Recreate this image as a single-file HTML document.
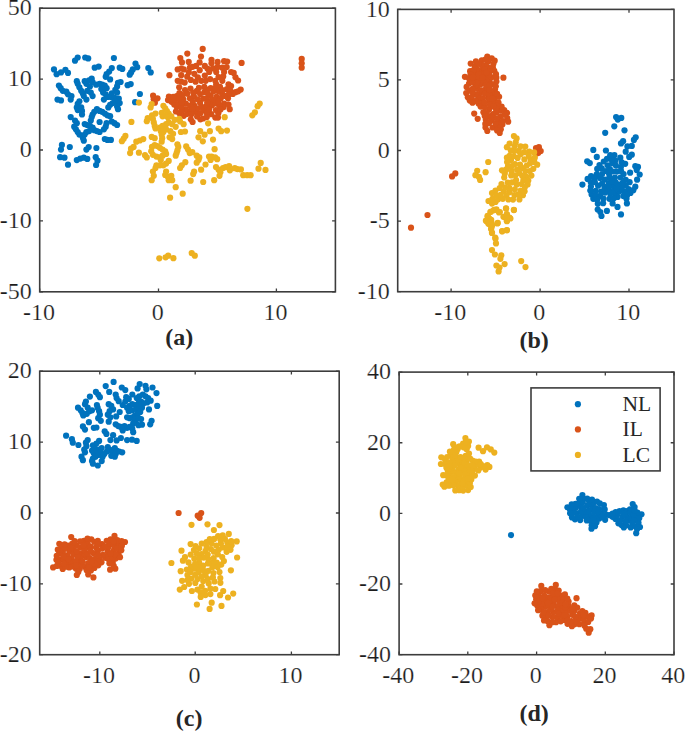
<!DOCTYPE html>
<html><head><meta charset="utf-8"><title>scatter</title>
<style>html,body{margin:0;padding:0;background:#fff}svg{display:block}text{font-family:"Liberation Serif",serif;fill:#262626}.t{stroke:#fff;stroke-width:0.22px;fill:#1c1c1c}</style></head><body>
<svg width="685" height="731" viewBox="0 0 685 731">
<rect width="685" height="731" fill="#fff"/>
<g id="plot-a">
<g fill="#0072BD"><circle cx="77.7" cy="57.5" r="3.1"/><circle cx="75.0" cy="60.7" r="3.1"/><circle cx="85.2" cy="57.5" r="3.1"/><circle cx="88.2" cy="58.4" r="3.1"/><circle cx="113.9" cy="58.0" r="3.1"/><circle cx="54.0" cy="69.4" r="3.1"/><circle cx="56.6" cy="74.2" r="3.1"/><circle cx="61.0" cy="72.4" r="3.1"/><circle cx="65.4" cy="69.8" r="3.1"/><circle cx="68.0" cy="72.9" r="3.1"/><circle cx="94.7" cy="67.7" r="3.1"/><circle cx="98.7" cy="66.6" r="3.1"/><circle cx="111.8" cy="68.0" r="3.1"/><circle cx="109.2" cy="71.5" r="3.1"/><circle cx="106.6" cy="74.2" r="3.1"/><circle cx="105.7" cy="76.8" r="3.1"/><circle cx="110.1" cy="79.4" r="3.1"/><circle cx="119.7" cy="67.7" r="3.1"/><circle cx="122.3" cy="68.9" r="3.1"/><circle cx="135.5" cy="63.6" r="3.1"/><circle cx="137.2" cy="67.2" r="3.1"/><circle cx="132.8" cy="69.4" r="3.1"/><circle cx="131.1" cy="72.4" r="3.1"/><circle cx="129.7" cy="74.7" r="3.1"/><circle cx="148.3" cy="68.0" r="3.1"/><circle cx="150.7" cy="72.4" r="3.1"/><circle cx="127.6" cy="85.2" r="3.1"/><circle cx="130.7" cy="84.1" r="3.1"/><circle cx="76.8" cy="81.2" r="3.1"/><circle cx="77.7" cy="83.8" r="3.1"/><circle cx="79.4" cy="87.3" r="3.1"/><circle cx="81.2" cy="90.8" r="3.1"/><circle cx="82.9" cy="93.4" r="3.1"/><circle cx="83.8" cy="96.1" r="3.1"/><circle cx="86.4" cy="99.6" r="3.1"/><circle cx="84.7" cy="81.2" r="3.1"/><circle cx="86.4" cy="83.8" r="3.1"/><circle cx="89.1" cy="80.3" r="3.1"/><circle cx="91.7" cy="78.5" r="3.1"/><circle cx="92.6" cy="82.0" r="3.1"/><circle cx="89.9" cy="86.4" r="3.1"/><circle cx="87.3" cy="90.8" r="3.1"/><circle cx="90.8" cy="92.6" r="3.1"/><circle cx="92.6" cy="96.1" r="3.1"/><circle cx="96.1" cy="84.7" r="3.1"/><circle cx="99.6" cy="83.8" r="3.1"/><circle cx="102.2" cy="84.7" r="3.1"/><circle cx="104.8" cy="85.5" r="3.1"/><circle cx="106.6" cy="88.2" r="3.1"/><circle cx="101.3" cy="89.1" r="3.1"/><circle cx="103.1" cy="92.6" r="3.1"/><circle cx="105.7" cy="94.3" r="3.1"/><circle cx="107.4" cy="96.9" r="3.1"/><circle cx="103.9" cy="99.6" r="3.1"/><circle cx="118.0" cy="82.9" r="3.1"/><circle cx="120.6" cy="82.0" r="3.1"/><circle cx="117.1" cy="86.4" r="3.1"/><circle cx="115.3" cy="89.9" r="3.1"/><circle cx="117.1" cy="92.6" r="3.1"/><circle cx="111.8" cy="93.4" r="3.1"/><circle cx="110.9" cy="96.9" r="3.1"/><circle cx="114.5" cy="97.8" r="3.1"/><circle cx="118.8" cy="98.7" r="3.1"/><circle cx="119.7" cy="103.1" r="3.1"/><circle cx="115.3" cy="101.3" r="3.1"/><circle cx="112.7" cy="103.1" r="3.1"/><circle cx="110.1" cy="104.8" r="3.1"/><circle cx="108.3" cy="107.4" r="3.1"/><circle cx="117.1" cy="106.6" r="3.1"/><circle cx="118.0" cy="109.2" r="3.1"/><circle cx="58.9" cy="85.5" r="3.1"/><circle cx="60.7" cy="88.2" r="3.1"/><circle cx="62.8" cy="90.8" r="3.1"/><circle cx="66.3" cy="91.7" r="3.1"/><circle cx="68.0" cy="94.3" r="3.1"/><circle cx="71.5" cy="96.1" r="3.1"/><circle cx="70.7" cy="99.6" r="3.1"/><circle cx="57.5" cy="99.6" r="3.1"/><circle cx="61.0" cy="100.4" r="3.1"/><circle cx="139.9" cy="94.0" r="3.1"/><circle cx="135.1" cy="102.2" r="3.1"/><circle cx="79.4" cy="101.3" r="3.1"/><circle cx="77.7" cy="103.9" r="3.1"/><circle cx="76.8" cy="107.4" r="3.1"/><circle cx="77.7" cy="110.1" r="3.1"/><circle cx="81.2" cy="107.4" r="3.1"/><circle cx="82.0" cy="110.9" r="3.1"/><circle cx="82.0" cy="114.5" r="3.1"/><circle cx="70.7" cy="117.1" r="3.1"/><circle cx="75.0" cy="120.6" r="3.1"/><circle cx="76.8" cy="123.2" r="3.1"/><circle cx="96.9" cy="109.2" r="3.1"/><circle cx="94.3" cy="111.8" r="3.1"/><circle cx="92.6" cy="114.5" r="3.1"/><circle cx="91.7" cy="117.1" r="3.1"/><circle cx="90.8" cy="120.6" r="3.1"/><circle cx="99.6" cy="110.9" r="3.1"/><circle cx="102.2" cy="111.8" r="3.1"/><circle cx="104.8" cy="113.6" r="3.1"/><circle cx="107.4" cy="115.3" r="3.1"/><circle cx="110.1" cy="116.2" r="3.1"/><circle cx="99.6" cy="122.0" r="3.1"/><circle cx="111.8" cy="121.5" r="3.1"/><circle cx="114.5" cy="123.2" r="3.1"/><circle cx="117.1" cy="125.0" r="3.1"/><circle cx="106.6" cy="123.2" r="3.1"/><circle cx="105.7" cy="126.7" r="3.1"/><circle cx="103.9" cy="129.3" r="3.1"/><circle cx="99.6" cy="132.0" r="3.1"/><circle cx="96.9" cy="131.1" r="3.1"/><circle cx="94.3" cy="130.2" r="3.1"/><circle cx="92.6" cy="127.6" r="3.1"/><circle cx="89.9" cy="125.8" r="3.1"/><circle cx="87.3" cy="125.0" r="3.1"/><circle cx="84.7" cy="124.1" r="3.1"/><circle cx="74.2" cy="126.7" r="3.1"/><circle cx="75.9" cy="129.3" r="3.1"/><circle cx="77.7" cy="132.0" r="3.1"/><circle cx="79.4" cy="134.6" r="3.1"/><circle cx="82.9" cy="138.1" r="3.1"/><circle cx="84.7" cy="134.6" r="3.1"/><circle cx="86.4" cy="132.0" r="3.1"/><circle cx="89.1" cy="131.1" r="3.1"/><circle cx="83.8" cy="140.7" r="3.1"/><circle cx="104.8" cy="139.0" r="3.1"/><circle cx="107.4" cy="139.9" r="3.1"/><circle cx="110.9" cy="139.9" r="3.1"/><circle cx="61.9" cy="144.9" r="3.1"/><circle cx="61.0" cy="149.6" r="3.1"/><circle cx="69.8" cy="147.0" r="3.1"/><circle cx="88.7" cy="147.0" r="3.1"/><circle cx="86.4" cy="149.6" r="3.1"/><circle cx="96.4" cy="148.0" r="3.1"/><circle cx="60.1" cy="157.2" r="3.1"/><circle cx="64.5" cy="157.7" r="3.1"/><circle cx="68.0" cy="164.7" r="3.1"/><circle cx="76.8" cy="160.1" r="3.1"/><circle cx="80.3" cy="158.6" r="3.1"/><circle cx="83.8" cy="157.7" r="3.1"/><circle cx="87.3" cy="158.9" r="3.1"/><circle cx="95.7" cy="157.2" r="3.1"/><circle cx="97.5" cy="160.7" r="3.1"/><circle cx="96.1" cy="165.0" r="3.1"/></g>
<g fill="#D95319"><circle cx="202.7" cy="48.9" r="3.1"/><circle cx="187.3" cy="53.6" r="3.1"/><circle cx="201.0" cy="56.6" r="3.1"/><circle cx="180.3" cy="58.0" r="3.1"/><circle cx="182.0" cy="62.4" r="3.1"/><circle cx="188.7" cy="61.9" r="3.1"/><circle cx="199.6" cy="62.4" r="3.1"/><circle cx="211.5" cy="59.8" r="3.1"/><circle cx="211.5" cy="63.3" r="3.1"/><circle cx="217.6" cy="61.9" r="3.1"/><circle cx="224.1" cy="61.2" r="3.1"/><circle cx="227.2" cy="61.5" r="3.1"/><circle cx="241.6" cy="62.9" r="3.1"/><circle cx="169.4" cy="75.2" r="3.1"/><circle cx="177.7" cy="69.4" r="3.1"/><circle cx="181.2" cy="68.5" r="3.1"/><circle cx="183.8" cy="69.4" r="3.1"/><circle cx="189.9" cy="67.7" r="3.1"/><circle cx="192.6" cy="66.8" r="3.1"/><circle cx="196.1" cy="65.9" r="3.1"/><circle cx="204.8" cy="65.9" r="3.1"/><circle cx="207.4" cy="68.5" r="3.1"/><circle cx="209.2" cy="72.0" r="3.1"/><circle cx="216.2" cy="72.0" r="3.1"/><circle cx="222.3" cy="67.7" r="3.1"/><circle cx="226.7" cy="67.1" r="3.1"/><circle cx="224.1" cy="72.0" r="3.1"/><circle cx="223.2" cy="76.4" r="3.1"/><circle cx="231.1" cy="72.0" r="3.1"/><circle cx="233.7" cy="72.9" r="3.1"/><circle cx="235.5" cy="77.3" r="3.1"/><circle cx="238.1" cy="80.5" r="3.1"/><circle cx="177.7" cy="80.8" r="3.1"/><circle cx="181.2" cy="81.7" r="3.1"/><circle cx="184.7" cy="82.6" r="3.1"/><circle cx="190.8" cy="79.9" r="3.1"/><circle cx="194.3" cy="73.8" r="3.1"/><circle cx="197.8" cy="77.3" r="3.1"/><circle cx="201.3" cy="80.8" r="3.1"/><circle cx="205.7" cy="80.8" r="3.1"/><circle cx="210.1" cy="79.1" r="3.1"/><circle cx="215.3" cy="80.8" r="3.1"/><circle cx="216.2" cy="84.3" r="3.1"/><circle cx="222.3" cy="80.8" r="3.1"/><circle cx="228.5" cy="84.3" r="3.1"/><circle cx="231.1" cy="86.1" r="3.1"/><circle cx="240.7" cy="89.6" r="3.1"/><circle cx="238.1" cy="91.3" r="3.1"/><circle cx="235.5" cy="92.2" r="3.1"/><circle cx="232.8" cy="93.9" r="3.1"/><circle cx="168.9" cy="96.6" r="3.1"/><circle cx="168.0" cy="100.1" r="3.1"/><circle cx="171.5" cy="101.8" r="3.1"/><circle cx="174.2" cy="104.5" r="3.1"/><circle cx="176.8" cy="107.1" r="3.1"/><circle cx="175.9" cy="111.5" r="3.1"/><circle cx="179.4" cy="113.2" r="3.1"/><circle cx="183.8" cy="115.8" r="3.1"/><circle cx="190.8" cy="119.3" r="3.1"/><circle cx="192.6" cy="122.0" r="3.1"/><circle cx="200.4" cy="119.3" r="3.1"/><circle cx="203.1" cy="118.5" r="3.1"/><circle cx="215.3" cy="117.6" r="3.1"/><circle cx="218.0" cy="117.6" r="3.1"/><circle cx="229.7" cy="109.2" r="3.1"/><circle cx="224.1" cy="103.6" r="3.1"/><circle cx="223.7" cy="107.1" r="3.1"/><circle cx="153.1" cy="95.7" r="3.1"/><circle cx="153.7" cy="99.2" r="3.1"/><circle cx="157.5" cy="98.3" r="3.1"/><circle cx="154.9" cy="102.7" r="3.1"/><circle cx="301.7" cy="58.9" r="3.1"/><circle cx="301.7" cy="63.3" r="3.1"/><circle cx="301.7" cy="67.7" r="3.1"/><circle cx="185.9" cy="103.7" r="3.1"/><circle cx="194.3" cy="105.6" r="3.1"/><circle cx="210.7" cy="88.2" r="3.1"/><circle cx="187.2" cy="93.7" r="3.1"/><circle cx="211.3" cy="114.2" r="3.1"/><circle cx="204.1" cy="110.1" r="3.1"/><circle cx="219.1" cy="105.2" r="3.1"/><circle cx="195.9" cy="112.0" r="3.1"/><circle cx="226.9" cy="89.2" r="3.1"/><circle cx="179.4" cy="93.1" r="3.1"/><circle cx="210.7" cy="95.8" r="3.1"/><circle cx="203.1" cy="98.6" r="3.1"/><circle cx="213.6" cy="91.3" r="3.1"/><circle cx="228.5" cy="104.5" r="3.1"/><circle cx="196.9" cy="90.9" r="3.1"/><circle cx="189.4" cy="111.0" r="3.1"/><circle cx="216.6" cy="96.8" r="3.1"/><circle cx="190.5" cy="88.6" r="3.1"/><circle cx="183.3" cy="99.3" r="3.1"/><circle cx="228.0" cy="98.3" r="3.1"/><circle cx="200.1" cy="102.9" r="3.1"/><circle cx="211.8" cy="105.4" r="3.1"/><circle cx="206.4" cy="106.2" r="3.1"/><circle cx="210.8" cy="101.2" r="3.1"/><circle cx="215.9" cy="110.0" r="3.1"/><circle cx="193.9" cy="96.2" r="3.1"/><circle cx="189.9" cy="98.3" r="3.1"/><circle cx="220.0" cy="86.9" r="3.1"/><circle cx="222.1" cy="93.8" r="3.1"/><circle cx="185.0" cy="90.0" r="3.1"/><circle cx="204.5" cy="92.2" r="3.1"/><circle cx="182.4" cy="95.1" r="3.1"/><circle cx="197.5" cy="99.3" r="3.1"/><circle cx="218.3" cy="113.2" r="3.1"/><circle cx="197.1" cy="116.5" r="3.1"/><circle cx="186.8" cy="114.0" r="3.1"/><circle cx="193.2" cy="92.5" r="3.1"/><circle cx="178.6" cy="104.1" r="3.1"/><circle cx="220.7" cy="98.4" r="3.1"/><circle cx="197.5" cy="108.6" r="3.1"/><circle cx="200.1" cy="94.0" r="3.1"/><circle cx="175.2" cy="99.8" r="3.1"/><circle cx="206.7" cy="112.9" r="3.1"/><circle cx="218.4" cy="91.3" r="3.1"/><circle cx="201.6" cy="106.9" r="3.1"/><circle cx="200.6" cy="113.1" r="3.1"/><circle cx="185.7" cy="109.3" r="3.1"/><circle cx="230.2" cy="90.6" r="3.1"/><circle cx="220.5" cy="109.6" r="3.1"/><circle cx="209.1" cy="109.6" r="3.1"/><circle cx="206.8" cy="117.1" r="3.1"/><circle cx="191.3" cy="114.3" r="3.1"/><circle cx="215.4" cy="103.5" r="3.1"/><circle cx="190.1" cy="105.7" r="3.1"/><circle cx="207.0" cy="89.6" r="3.1"/><circle cx="192.8" cy="101.8" r="3.1"/><circle cx="176.7" cy="96.2" r="3.1"/><circle cx="181.9" cy="110.4" r="3.1"/><circle cx="198.9" cy="87.9" r="3.1"/><circle cx="206.6" cy="98.6" r="3.1"/><circle cx="207.2" cy="102.6" r="3.1"/><circle cx="214.6" cy="99.9" r="3.1"/><circle cx="181.5" cy="106.8" r="3.1"/><circle cx="228.5" cy="94.7" r="3.1"/><circle cx="225.0" cy="95.9" r="3.1"/><circle cx="179.4" cy="99.1" r="3.1"/><circle cx="215.4" cy="87.9" r="3.1"/><circle cx="222.3" cy="90.2" r="3.1"/><circle cx="181.8" cy="102.5" r="3.1"/><circle cx="204.3" cy="86.9" r="3.1"/><circle cx="207.8" cy="93.6" r="3.1"/><circle cx="173.2" cy="96.9" r="3.1"/><circle cx="192.5" cy="109.0" r="3.1"/><circle cx="218.3" cy="101.5" r="3.1"/><circle cx="181.2" cy="75.2" r="3.1"/><circle cx="204.8" cy="75.6" r="3.1"/><circle cx="199.7" cy="70.2" r="3.1"/><circle cx="187.2" cy="76.7" r="3.1"/><circle cx="195.6" cy="81.7" r="3.1"/><circle cx="213.0" cy="68.4" r="3.1"/><circle cx="179.2" cy="87.3" r="3.1"/><circle cx="218.5" cy="77.0" r="3.1"/><circle cx="217.6" cy="66.9" r="3.1"/><circle cx="188.8" cy="72.3" r="3.1"/></g>
<g fill="#EDB120"><circle cx="138.9" cy="102.6" r="3.1"/><circle cx="151.7" cy="104.0" r="3.1"/><circle cx="150.6" cy="107.5" r="3.1"/><circle cx="163.4" cy="105.8" r="3.1"/><circle cx="165.2" cy="108.4" r="3.1"/><circle cx="166.9" cy="111.0" r="3.1"/><circle cx="168.7" cy="113.6" r="3.1"/><circle cx="131.4" cy="121.9" r="3.1"/><circle cx="147.7" cy="118.0" r="3.1"/><circle cx="146.8" cy="121.2" r="3.1"/><circle cx="152.0" cy="115.4" r="3.1"/><circle cx="155.5" cy="113.6" r="3.1"/><circle cx="152.9" cy="118.9" r="3.1"/><circle cx="153.8" cy="122.4" r="3.1"/><circle cx="154.7" cy="125.9" r="3.1"/><circle cx="155.5" cy="128.5" r="3.1"/><circle cx="161.7" cy="112.8" r="3.1"/><circle cx="162.6" cy="116.3" r="3.1"/><circle cx="165.2" cy="115.4" r="3.1"/><circle cx="167.8" cy="117.2" r="3.1"/><circle cx="171.3" cy="116.3" r="3.1"/><circle cx="174.8" cy="119.8" r="3.1"/><circle cx="179.2" cy="118.9" r="3.1"/><circle cx="180.1" cy="121.5" r="3.1"/><circle cx="183.6" cy="124.2" r="3.1"/><circle cx="175.7" cy="126.8" r="3.1"/><circle cx="172.2" cy="124.2" r="3.1"/><circle cx="168.7" cy="122.4" r="3.1"/><circle cx="166.1" cy="124.2" r="3.1"/><circle cx="162.6" cy="125.9" r="3.1"/><circle cx="159.9" cy="127.7" r="3.1"/><circle cx="160.8" cy="131.2" r="3.1"/><circle cx="163.4" cy="132.0" r="3.1"/><circle cx="166.1" cy="129.4" r="3.1"/><circle cx="170.4" cy="131.2" r="3.1"/><circle cx="173.1" cy="133.8" r="3.1"/><circle cx="180.9" cy="132.0" r="3.1"/><circle cx="185.0" cy="131.5" r="3.1"/><circle cx="125.4" cy="135.9" r="3.1"/><circle cx="123.7" cy="138.7" r="3.1"/><circle cx="121.9" cy="141.2" r="3.1"/><circle cx="151.7" cy="136.9" r="3.1"/><circle cx="154.7" cy="138.2" r="3.1"/><circle cx="143.3" cy="139.1" r="3.1"/><circle cx="139.8" cy="140.5" r="3.1"/><circle cx="136.3" cy="141.7" r="3.1"/><circle cx="161.7" cy="134.7" r="3.1"/><circle cx="162.2" cy="138.2" r="3.1"/><circle cx="161.7" cy="141.7" r="3.1"/><circle cx="169.6" cy="137.3" r="3.1"/><circle cx="172.2" cy="139.1" r="3.1"/><circle cx="133.6" cy="146.9" r="3.1"/><circle cx="131.0" cy="148.7" r="3.1"/><circle cx="130.1" cy="153.1" r="3.1"/><circle cx="138.9" cy="152.7" r="3.1"/><circle cx="145.0" cy="155.2" r="3.1"/><circle cx="146.8" cy="157.4" r="3.1"/><circle cx="152.0" cy="146.9" r="3.1"/><circle cx="154.7" cy="145.2" r="3.1"/><circle cx="157.3" cy="146.1" r="3.1"/><circle cx="159.9" cy="147.8" r="3.1"/><circle cx="162.6" cy="149.6" r="3.1"/><circle cx="165.2" cy="151.3" r="3.1"/><circle cx="166.1" cy="153.9" r="3.1"/><circle cx="162.6" cy="155.7" r="3.1"/><circle cx="159.9" cy="157.4" r="3.1"/><circle cx="156.4" cy="156.6" r="3.1"/><circle cx="152.9" cy="154.8" r="3.1"/><circle cx="151.2" cy="151.3" r="3.1"/><circle cx="160.8" cy="160.1" r="3.1"/><circle cx="177.4" cy="144.3" r="3.1"/><circle cx="178.3" cy="146.9" r="3.1"/><circle cx="177.4" cy="150.4" r="3.1"/><circle cx="176.6" cy="153.1" r="3.1"/><circle cx="175.7" cy="155.7" r="3.1"/><circle cx="186.2" cy="146.4" r="3.1"/><circle cx="188.0" cy="149.6" r="3.1"/><circle cx="189.7" cy="153.1" r="3.1"/><circle cx="192.3" cy="152.2" r="3.1"/><circle cx="196.7" cy="155.7" r="3.1"/><circle cx="199.3" cy="157.4" r="3.1"/><circle cx="198.5" cy="160.1" r="3.1"/><circle cx="196.7" cy="162.7" r="3.1"/><circle cx="168.7" cy="160.9" r="3.1"/><circle cx="166.1" cy="163.6" r="3.1"/><circle cx="163.4" cy="165.3" r="3.1"/><circle cx="159.9" cy="165.3" r="3.1"/><circle cx="156.4" cy="165.3" r="3.1"/><circle cx="155.5" cy="168.0" r="3.1"/><circle cx="152.9" cy="171.5" r="3.1"/><circle cx="153.8" cy="175.8" r="3.1"/><circle cx="151.7" cy="180.2" r="3.1"/><circle cx="185.3" cy="162.2" r="3.1"/><circle cx="181.8" cy="165.3" r="3.1"/><circle cx="180.1" cy="168.0" r="3.1"/><circle cx="166.1" cy="171.5" r="3.1"/><circle cx="165.2" cy="175.0" r="3.1"/><circle cx="167.8" cy="176.7" r="3.1"/><circle cx="171.3" cy="175.8" r="3.1"/><circle cx="168.7" cy="180.2" r="3.1"/><circle cx="172.2" cy="180.2" r="3.1"/><circle cx="175.7" cy="187.2" r="3.1"/><circle cx="194.1" cy="171.5" r="3.1"/><circle cx="193.2" cy="174.1" r="3.1"/><circle cx="190.6" cy="180.7" r="3.1"/><circle cx="201.1" cy="169.7" r="3.1"/><circle cx="205.5" cy="164.5" r="3.1"/><circle cx="203.2" cy="182.0" r="3.1"/><circle cx="182.7" cy="193.7" r="3.1"/><circle cx="170.1" cy="197.7" r="3.1"/><circle cx="198.5" cy="137.3" r="3.1"/><circle cx="200.2" cy="131.2" r="3.1"/><circle cx="204.6" cy="134.7" r="3.1"/><circle cx="209.9" cy="131.2" r="3.1"/><circle cx="202.8" cy="141.3" r="3.1"/><circle cx="213.0" cy="139.6" r="3.1"/><circle cx="214.6" cy="149.2" r="3.1"/><circle cx="209.0" cy="156.6" r="3.1"/><circle cx="211.6" cy="156.6" r="3.1"/><circle cx="215.1" cy="157.4" r="3.1"/><circle cx="217.2" cy="159.2" r="3.1"/><circle cx="216.0" cy="167.1" r="3.1"/><circle cx="218.6" cy="169.7" r="3.1"/><circle cx="220.4" cy="172.3" r="3.1"/><circle cx="219.5" cy="175.8" r="3.1"/><circle cx="214.2" cy="180.2" r="3.1"/><circle cx="223.0" cy="168.0" r="3.1"/><circle cx="225.6" cy="167.1" r="3.1"/><circle cx="229.1" cy="166.2" r="3.1"/><circle cx="224.7" cy="117.2" r="3.1"/><circle cx="208.1" cy="123.3" r="3.1"/><circle cx="218.6" cy="128.5" r="3.1"/><circle cx="221.2" cy="131.2" r="3.1"/><circle cx="227.0" cy="130.6" r="3.1"/><circle cx="259.7" cy="103.6" r="3.1"/><circle cx="257.6" cy="106.2" r="3.1"/><circle cx="254.9" cy="112.3" r="3.1"/><circle cx="252.3" cy="115.3" r="3.1"/><circle cx="210.6" cy="159.9" r="3.1"/><circle cx="229.9" cy="170.3" r="3.1"/><circle cx="234.8" cy="168.2" r="3.1"/><circle cx="237.4" cy="169.1" r="3.1"/><circle cx="240.9" cy="169.4" r="3.1"/><circle cx="243.2" cy="175.2" r="3.1"/><circle cx="247.1" cy="175.2" r="3.1"/><circle cx="250.6" cy="175.2" r="3.1"/><circle cx="260.7" cy="162.9" r="3.1"/><circle cx="258.5" cy="168.7" r="3.1"/><circle cx="265.5" cy="169.9" r="3.1"/><circle cx="247.4" cy="208.8" r="3.1"/><circle cx="159.3" cy="258.3" r="3.1"/><circle cx="165.6" cy="257.3" r="3.1"/><circle cx="168.2" cy="255.7" r="3.1"/><circle cx="173.4" cy="258.2" r="3.1"/><circle cx="191.7" cy="253.1" r="3.1"/><circle cx="194.8" cy="255.7" r="3.1"/></g>
<rect x="39.70" y="8.20" width="295.70" height="283.60" fill="none" stroke="#3d3d3d" stroke-width="1.6"/>
<path d="M39.70 291.80v-3.30M39.70 8.20v3.30M158.50 291.80v-3.30M158.50 8.20v3.30M276.40 291.80v-3.30M276.40 8.20v3.30M39.70 8.20h3.30M335.40 8.20h-3.30M39.70 79.10h3.30M335.40 79.10h-3.30M39.70 150.00h3.30M335.40 150.00h-3.30M39.70 220.90h3.30M335.40 220.90h-3.30M39.70 291.80h3.30M335.40 291.80h-3.30" stroke="#3d3d3d" stroke-width="1.3" fill="none"/>
<text x="38.90" y="319.60" font-size="24" class="t" text-anchor="middle">-10</text>
<text x="157.70" y="319.60" font-size="24" class="t" text-anchor="middle">0</text>
<text x="275.60" y="319.60" font-size="24" class="t" text-anchor="middle">10</text>
<text x="31.70" y="15.40" font-size="24" class="t" text-anchor="end">50</text>
<text x="31.70" y="86.30" font-size="24" class="t" text-anchor="end">10</text>
<text x="31.70" y="157.20" font-size="24" class="t" text-anchor="end">0</text>
<text x="31.70" y="228.10" font-size="24" class="t" text-anchor="end">-10</text>
<text x="31.70" y="299.00" font-size="24" class="t" text-anchor="end">-50</text>
<text x="179.30" y="345.00" font-size="24" font-weight="bold" text-anchor="middle" fill="#111">(a)</text>
</g>
<g id="plot-b">
<g fill="#0072BD"><circle cx="616.1" cy="117.0" r="3.1"/><circle cx="621.3" cy="117.9" r="3.1"/><circle cx="617.8" cy="119.6" r="3.1"/><circle cx="614.3" cy="126.3" r="3.1"/><circle cx="605.2" cy="132.8" r="3.1"/><circle cx="624.5" cy="130.3" r="3.1"/><circle cx="635.7" cy="137.3" r="3.1"/><circle cx="633.9" cy="139.9" r="3.1"/><circle cx="623.1" cy="141.2" r="3.1"/><circle cx="621.0" cy="143.4" r="3.1"/><circle cx="627.4" cy="146.4" r="3.1"/><circle cx="631.8" cy="145.9" r="3.1"/><circle cx="625.7" cy="151.7" r="3.1"/><circle cx="593.3" cy="149.9" r="3.1"/><circle cx="605.9" cy="150.5" r="3.1"/><circle cx="631.8" cy="154.7" r="3.1"/><circle cx="629.2" cy="156.9" r="3.1"/><circle cx="587.2" cy="161.3" r="3.1"/><circle cx="589.8" cy="163.1" r="3.1"/><circle cx="596.8" cy="156.9" r="3.1"/><circle cx="582.4" cy="184.6" r="3.1"/><circle cx="635.3" cy="166.2" r="3.1"/><circle cx="638.0" cy="166.9" r="3.1"/><circle cx="636.7" cy="170.1" r="3.1"/><circle cx="639.7" cy="174.5" r="3.1"/><circle cx="630.1" cy="172.7" r="3.1"/><circle cx="637.1" cy="179.7" r="3.1"/><circle cx="635.3" cy="186.7" r="3.1"/><circle cx="626.9" cy="203.4" r="3.1"/><circle cx="621.0" cy="214.4" r="3.1"/><circle cx="617.5" cy="206.9" r="3.1"/><circle cx="606.9" cy="210.9" r="3.1"/><circle cx="601.5" cy="216.0" r="3.1"/><circle cx="600.3" cy="212.1" r="3.1"/><circle cx="597.7" cy="209.5" r="3.1"/><circle cx="612.6" cy="203.4" r="3.1"/><circle cx="609.0" cy="173.5" r="3.1"/><circle cx="593.3" cy="198.8" r="3.1"/><circle cx="613.4" cy="186.0" r="3.1"/><circle cx="620.6" cy="177.5" r="3.1"/><circle cx="621.7" cy="162.4" r="3.1"/><circle cx="615.2" cy="194.0" r="3.1"/><circle cx="605.2" cy="192.6" r="3.1"/><circle cx="619.2" cy="191.6" r="3.1"/><circle cx="607.0" cy="158.8" r="3.1"/><circle cx="599.5" cy="165.1" r="3.1"/><circle cx="600.2" cy="195.9" r="3.1"/><circle cx="604.9" cy="179.5" r="3.1"/><circle cx="615.5" cy="160.5" r="3.1"/><circle cx="590.7" cy="182.0" r="3.1"/><circle cx="598.1" cy="185.7" r="3.1"/><circle cx="619.2" cy="184.6" r="3.1"/><circle cx="603.4" cy="198.7" r="3.1"/><circle cx="614.9" cy="177.5" r="3.1"/><circle cx="614.4" cy="155.2" r="3.1"/><circle cx="607.6" cy="165.3" r="3.1"/><circle cx="590.9" cy="186.6" r="3.1"/><circle cx="591.6" cy="194.6" r="3.1"/><circle cx="625.7" cy="179.8" r="3.1"/><circle cx="620.9" cy="167.0" r="3.1"/><circle cx="597.8" cy="203.8" r="3.1"/><circle cx="596.7" cy="174.3" r="3.1"/><circle cx="603.8" cy="161.5" r="3.1"/><circle cx="620.3" cy="157.7" r="3.1"/><circle cx="608.5" cy="190.4" r="3.1"/><circle cx="623.6" cy="174.0" r="3.1"/><circle cx="612.2" cy="163.2" r="3.1"/><circle cx="608.7" cy="183.0" r="3.1"/><circle cx="629.6" cy="182.2" r="3.1"/><circle cx="601.1" cy="191.5" r="3.1"/><circle cx="604.5" cy="186.9" r="3.1"/><circle cx="615.9" cy="165.6" r="3.1"/><circle cx="600.0" cy="178.0" r="3.1"/><circle cx="606.1" cy="171.0" r="3.1"/><circle cx="594.9" cy="182.2" r="3.1"/><circle cx="595.7" cy="190.8" r="3.1"/><circle cx="616.9" cy="171.6" r="3.1"/><circle cx="612.8" cy="171.5" r="3.1"/><circle cx="609.4" cy="198.8" r="3.1"/><circle cx="611.5" cy="159.4" r="3.1"/><circle cx="602.1" cy="174.1" r="3.1"/><circle cx="587.6" cy="178.9" r="3.1"/><circle cx="628.5" cy="189.1" r="3.1"/><circle cx="630.5" cy="193.0" r="3.1"/><circle cx="615.7" cy="182.3" r="3.1"/><circle cx="609.0" cy="186.8" r="3.1"/><circle cx="613.6" cy="190.5" r="3.1"/><circle cx="590.3" cy="190.5" r="3.1"/><circle cx="624.2" cy="191.5" r="3.1"/><circle cx="633.3" cy="190.2" r="3.1"/><circle cx="609.9" cy="169.2" r="3.1"/><circle cx="623.4" cy="196.1" r="3.1"/><circle cx="595.8" cy="195.7" r="3.1"/><circle cx="617.6" cy="196.9" r="3.1"/><circle cx="603.1" cy="203.2" r="3.1"/><circle cx="597.1" cy="199.7" r="3.1"/><circle cx="625.7" cy="185.5" r="3.1"/><circle cx="591.1" cy="176.1" r="3.1"/><circle cx="602.1" cy="183.5" r="3.1"/><circle cx="625.2" cy="163.8" r="3.1"/><circle cx="610.2" cy="155.2" r="3.1"/><circle cx="609.4" cy="177.2" r="3.1"/><circle cx="613.8" cy="198.3" r="3.1"/><circle cx="601.8" cy="168.4" r="3.1"/><circle cx="621.6" cy="188.6" r="3.1"/><circle cx="597.2" cy="168.9" r="3.1"/><circle cx="610.3" cy="193.9" r="3.1"/><circle cx="627.2" cy="194.9" r="3.1"/><circle cx="622.7" cy="182.9" r="3.1"/><circle cx="616.8" cy="188.2" r="3.1"/><circle cx="612.0" cy="181.2" r="3.1"/><circle cx="594.4" cy="178.5" r="3.1"/><circle cx="621.1" cy="171.2" r="3.1"/><circle cx="626.5" cy="198.7" r="3.1"/></g>
<g fill="#D95319"><circle cx="503.4" cy="77.7" r="3.1"/><circle cx="464.9" cy="76.8" r="3.1"/><circle cx="474.2" cy="113.6" r="3.1"/><circle cx="477.7" cy="118.8" r="3.1"/><circle cx="470.7" cy="63.6" r="3.1"/><circle cx="470.1" cy="71.2" r="3.1"/><circle cx="496.4" cy="81.5" r="3.1"/><circle cx="487.3" cy="56.6" r="3.1"/><circle cx="491.7" cy="58.4" r="3.1"/><circle cx="494.7" cy="60.7" r="3.1"/><circle cx="536.0" cy="148.1" r="3.1"/><circle cx="538.9" cy="147.2" r="3.1"/><circle cx="540.7" cy="151.0" r="3.1"/><circle cx="538.4" cy="152.8" r="3.1"/><circle cx="536.6" cy="153.4" r="3.1"/><circle cx="455.3" cy="173.4" r="3.1"/><circle cx="452.1" cy="176.4" r="3.1"/><circle cx="427.5" cy="215.0" r="3.1"/><circle cx="411.0" cy="227.7" r="3.1"/><circle cx="493.0" cy="114.0" r="3.1"/><circle cx="500.8" cy="129.3" r="3.1"/><circle cx="466.2" cy="93.0" r="3.1"/><circle cx="486.1" cy="76.3" r="3.1"/><circle cx="489.5" cy="101.3" r="3.1"/><circle cx="492.8" cy="67.2" r="3.1"/><circle cx="474.3" cy="73.9" r="3.1"/><circle cx="489.2" cy="109.2" r="3.1"/><circle cx="481.2" cy="70.2" r="3.1"/><circle cx="478.5" cy="103.5" r="3.1"/><circle cx="480.1" cy="81.1" r="3.1"/><circle cx="479.1" cy="94.2" r="3.1"/><circle cx="498.8" cy="121.9" r="3.1"/><circle cx="481.4" cy="101.6" r="3.1"/><circle cx="480.4" cy="84.6" r="3.1"/><circle cx="488.6" cy="116.6" r="3.1"/><circle cx="469.0" cy="83.5" r="3.1"/><circle cx="492.5" cy="127.5" r="3.1"/><circle cx="489.5" cy="81.3" r="3.1"/><circle cx="491.7" cy="120.5" r="3.1"/><circle cx="485.5" cy="89.7" r="3.1"/><circle cx="493.4" cy="117.6" r="3.1"/><circle cx="469.7" cy="90.6" r="3.1"/><circle cx="486.9" cy="113.1" r="3.1"/><circle cx="486.5" cy="79.7" r="3.1"/><circle cx="468.9" cy="78.3" r="3.1"/><circle cx="499.9" cy="110.4" r="3.1"/><circle cx="494.2" cy="101.8" r="3.1"/><circle cx="485.8" cy="119.8" r="3.1"/><circle cx="480.6" cy="106.6" r="3.1"/><circle cx="504.2" cy="110.0" r="3.1"/><circle cx="488.3" cy="97.9" r="3.1"/><circle cx="496.1" cy="112.4" r="3.1"/><circle cx="495.0" cy="89.6" r="3.1"/><circle cx="484.8" cy="107.1" r="3.1"/><circle cx="477.5" cy="88.8" r="3.1"/><circle cx="481.8" cy="60.3" r="3.1"/><circle cx="501.6" cy="106.5" r="3.1"/><circle cx="492.4" cy="84.3" r="3.1"/><circle cx="469.8" cy="100.6" r="3.1"/><circle cx="481.9" cy="90.4" r="3.1"/><circle cx="475.1" cy="79.7" r="3.1"/><circle cx="491.8" cy="77.3" r="3.1"/><circle cx="483.7" cy="81.8" r="3.1"/><circle cx="477.0" cy="69.3" r="3.1"/><circle cx="492.4" cy="93.7" r="3.1"/><circle cx="478.3" cy="97.9" r="3.1"/><circle cx="485.9" cy="85.0" r="3.1"/><circle cx="498.5" cy="102.5" r="3.1"/><circle cx="485.5" cy="127.4" r="3.1"/><circle cx="496.9" cy="105.7" r="3.1"/><circle cx="490.0" cy="104.8" r="3.1"/><circle cx="488.2" cy="67.7" r="3.1"/><circle cx="475.5" cy="85.8" r="3.1"/><circle cx="475.0" cy="66.4" r="3.1"/><circle cx="485.9" cy="65.1" r="3.1"/><circle cx="475.5" cy="94.3" r="3.1"/><circle cx="496.0" cy="108.9" r="3.1"/><circle cx="475.9" cy="61.4" r="3.1"/><circle cx="483.1" cy="98.0" r="3.1"/><circle cx="497.7" cy="127.1" r="3.1"/><circle cx="481.8" cy="65.0" r="3.1"/><circle cx="507.3" cy="118.1" r="3.1"/><circle cx="482.6" cy="73.9" r="3.1"/><circle cx="495.7" cy="123.3" r="3.1"/><circle cx="495.6" cy="97.3" r="3.1"/><circle cx="478.7" cy="77.9" r="3.1"/><circle cx="502.4" cy="124.5" r="3.1"/><circle cx="489.4" cy="86.1" r="3.1"/><circle cx="487.3" cy="130.9" r="3.1"/><circle cx="488.2" cy="61.6" r="3.1"/><circle cx="484.9" cy="93.5" r="3.1"/><circle cx="484.5" cy="102.7" r="3.1"/><circle cx="472.5" cy="92.4" r="3.1"/><circle cx="471.7" cy="97.0" r="3.1"/><circle cx="475.8" cy="100.9" r="3.1"/><circle cx="466.6" cy="86.9" r="3.1"/><circle cx="499.1" cy="96.8" r="3.1"/><circle cx="494.3" cy="70.8" r="3.1"/><circle cx="493.3" cy="106.3" r="3.1"/><circle cx="500.6" cy="116.3" r="3.1"/><circle cx="489.1" cy="94.0" r="3.1"/><circle cx="496.0" cy="74.1" r="3.1"/><circle cx="484.9" cy="69.0" r="3.1"/><circle cx="485.3" cy="123.9" r="3.1"/><circle cx="472.7" cy="88.9" r="3.1"/><circle cx="497.1" cy="130.4" r="3.1"/><circle cx="478.6" cy="63.8" r="3.1"/><circle cx="467.8" cy="97.3" r="3.1"/><circle cx="507.1" cy="112.9" r="3.1"/><circle cx="476.9" cy="82.7" r="3.1"/><circle cx="489.1" cy="122.9" r="3.1"/><circle cx="489.5" cy="90.1" r="3.1"/><circle cx="473.6" cy="70.2" r="3.1"/><circle cx="493.4" cy="63.8" r="3.1"/><circle cx="490.0" cy="71.0" r="3.1"/><circle cx="496.4" cy="77.7" r="3.1"/><circle cx="470.5" cy="74.7" r="3.1"/><circle cx="503.0" cy="121.1" r="3.1"/><circle cx="489.3" cy="74.9" r="3.1"/><circle cx="478.9" cy="74.0" r="3.1"/><circle cx="486.4" cy="72.8" r="3.1"/><circle cx="504.3" cy="114.7" r="3.1"/><circle cx="497.1" cy="93.8" r="3.1"/><circle cx="472.4" cy="82.3" r="3.1"/><circle cx="483.4" cy="112.2" r="3.1"/><circle cx="495.8" cy="86.3" r="3.1"/><circle cx="472.7" cy="77.4" r="3.1"/><circle cx="499.7" cy="133.0" r="3.1"/><circle cx="492.2" cy="98.7" r="3.1"/><circle cx="482.4" cy="77.7" r="3.1"/><circle cx="484.7" cy="116.1" r="3.1"/><circle cx="485.3" cy="59.5" r="3.1"/><circle cx="497.0" cy="118.3" r="3.1"/><circle cx="508.2" cy="121.7" r="3.1"/><circle cx="472.5" cy="102.7" r="3.1"/></g>
<g fill="#EDB120"><circle cx="488.2" cy="162.0" r="3.1"/><circle cx="477.2" cy="170.8" r="3.1"/><circle cx="475.4" cy="175.2" r="3.1"/><circle cx="485.6" cy="172.2" r="3.1"/><circle cx="478.9" cy="176.9" r="3.1"/><circle cx="480.1" cy="179.9" r="3.1"/><circle cx="506.1" cy="208.5" r="3.1"/><circle cx="513.9" cy="209.9" r="3.1"/><circle cx="490.3" cy="212.0" r="3.1"/><circle cx="493.8" cy="210.2" r="3.1"/><circle cx="496.4" cy="209.3" r="3.1"/><circle cx="499.9" cy="212.0" r="3.1"/><circle cx="487.7" cy="216.4" r="3.1"/><circle cx="485.9" cy="220.7" r="3.1"/><circle cx="488.5" cy="223.4" r="3.1"/><circle cx="491.2" cy="219.9" r="3.1"/><circle cx="492.0" cy="225.1" r="3.1"/><circle cx="497.3" cy="223.4" r="3.1"/><circle cx="491.2" cy="228.6" r="3.1"/><circle cx="492.0" cy="233.0" r="3.1"/><circle cx="495.2" cy="237.7" r="3.1"/><circle cx="506.9" cy="214.6" r="3.1"/><circle cx="505.2" cy="217.2" r="3.1"/><circle cx="506.9" cy="220.7" r="3.1"/><circle cx="510.4" cy="218.5" r="3.1"/><circle cx="502.2" cy="231.2" r="3.1"/><circle cx="506.9" cy="230.0" r="3.1"/><circle cx="513.9" cy="136.1" r="3.1"/><circle cx="516.6" cy="138.4" r="3.1"/><circle cx="515.7" cy="142.4" r="3.1"/><circle cx="509.6" cy="143.6" r="3.1"/><circle cx="506.9" cy="147.2" r="3.1"/><circle cx="525.3" cy="146.6" r="3.1"/><circle cx="506.9" cy="157.7" r="3.1"/><circle cx="509.6" cy="155.9" r="3.1"/><circle cx="537.2" cy="164.7" r="3.1"/><circle cx="534.1" cy="152.4" r="3.1"/><circle cx="495.5" cy="238.7" r="3.1"/><circle cx="496.0" cy="243.4" r="3.1"/><circle cx="492.0" cy="250.1" r="3.1"/><circle cx="494.9" cy="254.5" r="3.1"/><circle cx="501.3" cy="255.3" r="3.1"/><circle cx="500.4" cy="258.8" r="3.1"/><circle cx="504.6" cy="264.1" r="3.1"/><circle cx="496.4" cy="265.5" r="3.1"/><circle cx="499.5" cy="267.6" r="3.1"/><circle cx="498.6" cy="271.4" r="3.1"/><circle cx="502.1" cy="231.3" r="3.1"/><circle cx="506.9" cy="230.3" r="3.1"/><circle cx="491.1" cy="229.1" r="3.1"/><circle cx="492.0" cy="232.6" r="3.1"/><circle cx="521.2" cy="261.1" r="3.1"/><circle cx="525.5" cy="267.1" r="3.1"/><circle cx="487.6" cy="215.9" r="3.1"/><circle cx="489.3" cy="218.5" r="3.1"/><circle cx="486.7" cy="221.2" r="3.1"/><circle cx="488.5" cy="223.8" r="3.1"/><circle cx="491.1" cy="222.0" r="3.1"/><circle cx="492.0" cy="225.9" r="3.1"/><circle cx="497.8" cy="222.9" r="3.1"/><circle cx="503.4" cy="216.8" r="3.1"/><circle cx="506.9" cy="214.2" r="3.1"/><circle cx="509.5" cy="217.7" r="3.1"/><circle cx="506.9" cy="221.2" r="3.1"/><circle cx="491.1" cy="211.5" r="3.1"/><circle cx="494.6" cy="209.8" r="3.1"/><circle cx="499.0" cy="212.4" r="3.1"/><circle cx="506.0" cy="208.4" r="3.1"/><circle cx="513.9" cy="210.1" r="3.1"/><circle cx="488.5" cy="201.0" r="3.1"/><circle cx="492.0" cy="203.6" r="3.1"/><circle cx="495.5" cy="201.9" r="3.1"/><circle cx="498.1" cy="199.3" r="3.1"/><circle cx="492.0" cy="193.1" r="3.1"/><circle cx="495.5" cy="190.5" r="3.1"/><circle cx="520.6" cy="146.3" r="3.1"/><circle cx="515.0" cy="164.1" r="3.1"/><circle cx="509.6" cy="192.2" r="3.1"/><circle cx="519.4" cy="199.5" r="3.1"/><circle cx="530.7" cy="159.5" r="3.1"/><circle cx="503.9" cy="191.5" r="3.1"/><circle cx="520.0" cy="164.5" r="3.1"/><circle cx="522.0" cy="167.9" r="3.1"/><circle cx="504.2" cy="177.5" r="3.1"/><circle cx="511.0" cy="160.1" r="3.1"/><circle cx="527.6" cy="184.4" r="3.1"/><circle cx="514.5" cy="195.1" r="3.1"/><circle cx="524.4" cy="159.4" r="3.1"/><circle cx="509.3" cy="187.9" r="3.1"/><circle cx="526.1" cy="176.7" r="3.1"/><circle cx="517.1" cy="169.6" r="3.1"/><circle cx="512.0" cy="182.3" r="3.1"/><circle cx="507.7" cy="182.5" r="3.1"/><circle cx="506.4" cy="195.6" r="3.1"/><circle cx="517.6" cy="157.9" r="3.1"/><circle cx="508.0" cy="166.2" r="3.1"/><circle cx="518.8" cy="150.9" r="3.1"/><circle cx="511.6" cy="171.3" r="3.1"/><circle cx="529.3" cy="151.7" r="3.1"/><circle cx="514.6" cy="150.8" r="3.1"/><circle cx="514.8" cy="189.3" r="3.1"/><circle cx="501.5" cy="184.0" r="3.1"/><circle cx="529.8" cy="171.0" r="3.1"/><circle cx="520.7" cy="190.5" r="3.1"/><circle cx="525.4" cy="171.0" r="3.1"/><circle cx="508.4" cy="199.5" r="3.1"/><circle cx="524.2" cy="152.2" r="3.1"/><circle cx="506.1" cy="169.7" r="3.1"/><circle cx="504.8" cy="173.4" r="3.1"/><circle cx="533.3" cy="168.8" r="3.1"/><circle cx="522.9" cy="195.2" r="3.1"/><circle cx="534.8" cy="157.7" r="3.1"/><circle cx="519.3" cy="173.0" r="3.1"/><circle cx="516.7" cy="184.5" r="3.1"/><circle cx="492.4" cy="198.9" r="3.1"/><circle cx="523.3" cy="180.6" r="3.1"/><circle cx="524.6" cy="191.3" r="3.1"/><circle cx="516.1" cy="180.1" r="3.1"/><circle cx="521.6" cy="184.0" r="3.1"/><circle cx="502.8" cy="198.8" r="3.1"/><circle cx="510.8" cy="150.4" r="3.1"/><circle cx="511.2" cy="175.4" r="3.1"/><circle cx="528.8" cy="155.9" r="3.1"/><circle cx="499.7" cy="188.1" r="3.1"/><circle cx="534.3" cy="161.9" r="3.1"/><circle cx="507.1" cy="162.1" r="3.1"/><circle cx="496.4" cy="195.6" r="3.1"/><circle cx="513.6" cy="156.0" r="3.1"/><circle cx="520.6" cy="154.3" r="3.1"/><circle cx="531.4" cy="175.6" r="3.1"/><circle cx="505.2" cy="187.5" r="3.1"/><circle cx="526.8" cy="165.5" r="3.1"/><circle cx="528.3" cy="180.5" r="3.1"/><circle cx="514.7" cy="146.1" r="3.1"/><circle cx="502.0" cy="170.3" r="3.1"/><circle cx="524.9" cy="187.1" r="3.1"/><circle cx="513.0" cy="199.6" r="3.1"/><circle cx="530.1" cy="163.3" r="3.1"/><circle cx="518.3" cy="194.4" r="3.1"/><circle cx="515.4" cy="175.3" r="3.1"/><circle cx="500.6" cy="194.9" r="3.1"/><circle cx="522.2" cy="175.8" r="3.1"/><circle cx="511.8" cy="166.2" r="3.1"/></g>
<rect x="397.70" y="9.40" width="276.30" height="282.30" fill="none" stroke="#3d3d3d" stroke-width="1.6"/>
<path d="M451.10 291.70v-3.30M451.10 9.40v3.30M540.10 291.70v-3.30M540.10 9.40v3.30M629.00 291.70v-3.30M629.00 9.40v3.30M397.70 9.40h3.30M674.00 9.40h-3.30M397.70 79.95h3.30M674.00 79.95h-3.30M397.70 150.50h3.30M674.00 150.50h-3.30M397.70 221.05h3.30M674.00 221.05h-3.30M397.70 291.70h3.30M674.00 291.70h-3.30" stroke="#3d3d3d" stroke-width="1.3" fill="none"/>
<text x="450.30" y="319.50" font-size="24" class="t" text-anchor="middle">-10</text>
<text x="539.30" y="319.50" font-size="24" class="t" text-anchor="middle">0</text>
<text x="628.20" y="319.50" font-size="24" class="t" text-anchor="middle">10</text>
<text x="389.70" y="16.60" font-size="24" class="t" text-anchor="end">10</text>
<text x="389.70" y="87.15" font-size="24" class="t" text-anchor="end">5</text>
<text x="389.70" y="157.70" font-size="24" class="t" text-anchor="end">0</text>
<text x="389.70" y="228.25" font-size="24" class="t" text-anchor="end">-5</text>
<text x="389.70" y="298.90" font-size="24" class="t" text-anchor="end">-10</text>
<text x="534.10" y="347.70" font-size="24" font-weight="bold" text-anchor="middle" fill="#111">(b)</text>
</g>
<g id="plot-c">
<g fill="#0072BD"><circle cx="113.6" cy="381.9" r="3.1"/><circle cx="105.7" cy="386.1" r="3.1"/><circle cx="109.2" cy="391.9" r="3.1"/><circle cx="121.8" cy="387.5" r="3.1"/><circle cx="125.3" cy="390.1" r="3.1"/><circle cx="139.7" cy="384.0" r="3.1"/><circle cx="137.6" cy="388.4" r="3.1"/><circle cx="145.5" cy="385.8" r="3.1"/><circle cx="146.4" cy="389.3" r="3.1"/><circle cx="152.5" cy="387.5" r="3.1"/><circle cx="156.5" cy="393.1" r="3.1"/><circle cx="157.2" cy="405.9" r="3.1"/><circle cx="95.9" cy="391.9" r="3.1"/><circle cx="98.2" cy="394.5" r="3.1"/><circle cx="99.9" cy="397.2" r="3.1"/><circle cx="89.9" cy="396.6" r="3.1"/><circle cx="115.7" cy="394.5" r="3.1"/><circle cx="116.6" cy="398.0" r="3.1"/><circle cx="118.7" cy="401.2" r="3.1"/><circle cx="85.9" cy="401.5" r="3.1"/><circle cx="85.0" cy="404.2" r="3.1"/><circle cx="78.0" cy="407.7" r="3.1"/><circle cx="80.7" cy="410.3" r="3.1"/><circle cx="82.4" cy="412.9" r="3.1"/><circle cx="83.3" cy="415.5" r="3.1"/><circle cx="86.8" cy="413.8" r="3.1"/><circle cx="89.4" cy="411.2" r="3.1"/><circle cx="92.0" cy="410.3" r="3.1"/><circle cx="87.7" cy="407.7" r="3.1"/><circle cx="96.9" cy="405.0" r="3.1"/><circle cx="97.6" cy="407.7" r="3.1"/><circle cx="99.1" cy="411.2" r="3.1"/><circle cx="99.9" cy="414.7" r="3.1"/><circle cx="98.2" cy="418.2" r="3.1"/><circle cx="100.8" cy="420.8" r="3.1"/><circle cx="88.9" cy="422.2" r="3.1"/><circle cx="108.7" cy="404.2" r="3.1"/><circle cx="111.3" cy="405.9" r="3.1"/><circle cx="113.1" cy="409.4" r="3.1"/><circle cx="109.6" cy="411.2" r="3.1"/><circle cx="107.8" cy="414.7" r="3.1"/><circle cx="110.4" cy="417.3" r="3.1"/><circle cx="108.7" cy="421.7" r="3.1"/><circle cx="119.7" cy="412.0" r="3.1"/><circle cx="116.2" cy="416.4" r="3.1"/><circle cx="122.7" cy="405.0" r="3.1"/><circle cx="125.3" cy="401.5" r="3.1"/><circle cx="126.2" cy="397.2" r="3.1"/><circle cx="128.8" cy="398.9" r="3.1"/><circle cx="132.3" cy="394.5" r="3.1"/><circle cx="136.7" cy="398.0" r="3.1"/><circle cx="139.3" cy="396.3" r="3.1"/><circle cx="142.8" cy="394.5" r="3.1"/><circle cx="145.5" cy="396.3" r="3.1"/><circle cx="148.1" cy="398.0" r="3.1"/><circle cx="150.7" cy="400.7" r="3.1"/><circle cx="147.2" cy="402.4" r="3.1"/><circle cx="143.7" cy="403.3" r="3.1"/><circle cx="141.1" cy="401.5" r="3.1"/><circle cx="138.5" cy="403.3" r="3.1"/><circle cx="135.8" cy="405.0" r="3.1"/><circle cx="132.3" cy="404.2" r="3.1"/><circle cx="129.7" cy="405.9" r="3.1"/><circle cx="127.1" cy="407.7" r="3.1"/><circle cx="128.8" cy="411.2" r="3.1"/><circle cx="132.3" cy="410.3" r="3.1"/><circle cx="135.8" cy="409.4" r="3.1"/><circle cx="139.3" cy="408.5" r="3.1"/><circle cx="142.0" cy="407.7" r="3.1"/><circle cx="149.0" cy="409.4" r="3.1"/><circle cx="140.2" cy="412.0" r="3.1"/><circle cx="137.6" cy="413.8" r="3.1"/><circle cx="135.0" cy="415.5" r="3.1"/><circle cx="132.3" cy="417.3" r="3.1"/><circle cx="129.7" cy="418.2" r="3.1"/><circle cx="127.1" cy="417.3" r="3.1"/><circle cx="135.0" cy="419.9" r="3.1"/><circle cx="138.5" cy="418.2" r="3.1"/><circle cx="141.1" cy="419.1" r="3.1"/><circle cx="135.8" cy="422.6" r="3.1"/><circle cx="133.2" cy="423.4" r="3.1"/><circle cx="138.5" cy="425.2" r="3.1"/><circle cx="142.0" cy="424.7" r="3.1"/><circle cx="151.6" cy="420.8" r="3.1"/><circle cx="150.2" cy="424.3" r="3.1"/><circle cx="115.7" cy="424.3" r="3.1"/><circle cx="118.3" cy="426.1" r="3.1"/><circle cx="120.9" cy="426.9" r="3.1"/><circle cx="124.5" cy="426.1" r="3.1"/><circle cx="127.1" cy="427.8" r="3.1"/><circle cx="122.7" cy="430.4" r="3.1"/><circle cx="129.7" cy="426.9" r="3.1"/><circle cx="132.3" cy="428.7" r="3.1"/><circle cx="133.2" cy="432.2" r="3.1"/><circle cx="82.9" cy="426.4" r="3.1"/><circle cx="85.0" cy="429.6" r="3.1"/><circle cx="93.8" cy="427.8" r="3.1"/><circle cx="96.4" cy="427.5" r="3.1"/><circle cx="104.7" cy="431.3" r="3.1"/><circle cx="106.4" cy="433.9" r="3.1"/><circle cx="113.1" cy="435.2" r="3.1"/><circle cx="110.4" cy="440.1" r="3.1"/><circle cx="116.6" cy="440.4" r="3.1"/><circle cx="120.9" cy="438.0" r="3.1"/><circle cx="127.1" cy="440.1" r="3.1"/><circle cx="132.0" cy="439.7" r="3.1"/><circle cx="136.7" cy="440.9" r="3.1"/><circle cx="66.1" cy="435.7" r="3.1"/><circle cx="71.9" cy="439.2" r="3.1"/><circle cx="72.8" cy="442.7" r="3.1"/><circle cx="78.4" cy="445.0" r="3.1"/><circle cx="87.7" cy="440.1" r="3.1"/><circle cx="85.9" cy="442.7" r="3.1"/><circle cx="86.4" cy="446.2" r="3.1"/><circle cx="84.2" cy="449.7" r="3.1"/><circle cx="85.0" cy="452.3" r="3.1"/><circle cx="81.5" cy="456.7" r="3.1"/><circle cx="82.9" cy="460.2" r="3.1"/><circle cx="99.1" cy="440.9" r="3.1"/><circle cx="96.4" cy="443.6" r="3.1"/><circle cx="92.9" cy="445.3" r="3.1"/><circle cx="94.7" cy="448.0" r="3.1"/><circle cx="92.0" cy="450.6" r="3.1"/><circle cx="93.8" cy="453.2" r="3.1"/><circle cx="96.4" cy="451.5" r="3.1"/><circle cx="99.1" cy="449.7" r="3.1"/><circle cx="101.7" cy="448.0" r="3.1"/><circle cx="100.8" cy="452.3" r="3.1"/><circle cx="98.2" cy="455.0" r="3.1"/><circle cx="95.5" cy="456.7" r="3.1"/><circle cx="92.9" cy="458.5" r="3.1"/><circle cx="92.0" cy="461.1" r="3.1"/><circle cx="92.9" cy="463.7" r="3.1"/><circle cx="97.8" cy="465.5" r="3.1"/><circle cx="101.7" cy="461.1" r="3.1"/><circle cx="102.6" cy="456.7" r="3.1"/><circle cx="104.3" cy="454.1" r="3.1"/><circle cx="106.9" cy="451.5" r="3.1"/><circle cx="107.8" cy="447.1" r="3.1"/><circle cx="109.6" cy="449.7" r="3.1"/><circle cx="112.2" cy="451.5" r="3.1"/><circle cx="114.8" cy="448.0" r="3.1"/><circle cx="116.6" cy="450.6" r="3.1"/><circle cx="115.7" cy="454.1" r="3.1"/><circle cx="114.8" cy="456.7" r="3.1"/><circle cx="111.3" cy="455.8" r="3.1"/><circle cx="119.2" cy="451.5" r="3.1"/><circle cx="122.2" cy="452.3" r="3.1"/></g>
<g fill="#D95319"><circle cx="71.2" cy="537.1" r="3.1"/><circle cx="93.4" cy="577.4" r="3.1"/><circle cx="53.1" cy="567.4" r="3.1"/><circle cx="76.8" cy="575.0" r="3.1"/><circle cx="88.2" cy="574.5" r="3.1"/><circle cx="59.3" cy="543.8" r="3.1"/><circle cx="125.0" cy="542.0" r="3.1"/><circle cx="114.5" cy="535.9" r="3.1"/><circle cx="110.1" cy="569.7" r="3.1"/><circle cx="115.3" cy="568.7" r="3.1"/><circle cx="178.6" cy="513.0" r="3.1"/><circle cx="201.2" cy="513.0" r="3.1"/><circle cx="197.7" cy="515.7" r="3.1"/><circle cx="199.6" cy="517.8" r="3.1"/><circle cx="86.0" cy="557.0" r="3.1"/><circle cx="118.5" cy="553.7" r="3.1"/><circle cx="89.9" cy="558.0" r="3.1"/><circle cx="67.6" cy="555.3" r="3.1"/><circle cx="98.3" cy="565.3" r="3.1"/><circle cx="61.4" cy="547.9" r="3.1"/><circle cx="61.1" cy="565.9" r="3.1"/><circle cx="99.9" cy="559.0" r="3.1"/><circle cx="91.3" cy="539.3" r="3.1"/><circle cx="68.0" cy="545.7" r="3.1"/><circle cx="85.2" cy="567.1" r="3.1"/><circle cx="86.4" cy="547.0" r="3.1"/><circle cx="112.7" cy="562.3" r="3.1"/><circle cx="76.6" cy="545.3" r="3.1"/><circle cx="107.6" cy="551.4" r="3.1"/><circle cx="113.2" cy="550.9" r="3.1"/><circle cx="59.9" cy="559.5" r="3.1"/><circle cx="108.5" cy="546.7" r="3.1"/><circle cx="109.8" cy="543.5" r="3.1"/><circle cx="93.4" cy="553.1" r="3.1"/><circle cx="68.0" cy="563.2" r="3.1"/><circle cx="63.9" cy="560.0" r="3.1"/><circle cx="62.9" cy="552.1" r="3.1"/><circle cx="75.8" cy="568.6" r="3.1"/><circle cx="69.4" cy="551.2" r="3.1"/><circle cx="71.6" cy="558.5" r="3.1"/><circle cx="80.5" cy="553.3" r="3.1"/><circle cx="94.4" cy="568.0" r="3.1"/><circle cx="72.1" cy="543.9" r="3.1"/><circle cx="115.6" cy="558.6" r="3.1"/><circle cx="83.9" cy="540.8" r="3.1"/><circle cx="71.3" cy="562.2" r="3.1"/><circle cx="72.6" cy="566.4" r="3.1"/><circle cx="96.0" cy="547.6" r="3.1"/><circle cx="118.0" cy="544.4" r="3.1"/><circle cx="94.3" cy="541.8" r="3.1"/><circle cx="79.8" cy="568.8" r="3.1"/><circle cx="56.4" cy="559.8" r="3.1"/><circle cx="88.1" cy="563.1" r="3.1"/><circle cx="79.1" cy="561.5" r="3.1"/><circle cx="97.9" cy="550.7" r="3.1"/><circle cx="95.0" cy="558.8" r="3.1"/><circle cx="105.5" cy="557.8" r="3.1"/><circle cx="103.0" cy="554.8" r="3.1"/><circle cx="75.6" cy="561.3" r="3.1"/><circle cx="98.0" cy="554.7" r="3.1"/><circle cx="76.2" cy="565.3" r="3.1"/><circle cx="102.0" cy="544.2" r="3.1"/><circle cx="87.6" cy="543.5" r="3.1"/><circle cx="73.6" cy="549.4" r="3.1"/><circle cx="82.0" cy="565.3" r="3.1"/><circle cx="117.3" cy="540.2" r="3.1"/><circle cx="80.8" cy="557.4" r="3.1"/><circle cx="91.9" cy="565.3" r="3.1"/><circle cx="110.6" cy="539.4" r="3.1"/><circle cx="69.2" cy="567.4" r="3.1"/><circle cx="73.4" cy="554.0" r="3.1"/><circle cx="68.1" cy="559.1" r="3.1"/><circle cx="102.2" cy="548.6" r="3.1"/><circle cx="113.9" cy="545.4" r="3.1"/><circle cx="117.0" cy="548.4" r="3.1"/><circle cx="82.6" cy="561.5" r="3.1"/><circle cx="121.6" cy="541.2" r="3.1"/><circle cx="80.1" cy="547.3" r="3.1"/><circle cx="84.5" cy="554.1" r="3.1"/><circle cx="121.9" cy="545.8" r="3.1"/><circle cx="90.9" cy="570.5" r="3.1"/><circle cx="108.5" cy="556.0" r="3.1"/><circle cx="62.7" cy="568.9" r="3.1"/><circle cx="108.9" cy="559.4" r="3.1"/><circle cx="97.8" cy="540.8" r="3.1"/><circle cx="77.3" cy="556.6" r="3.1"/><circle cx="84.3" cy="550.3" r="3.1"/><circle cx="80.1" cy="541.3" r="3.1"/><circle cx="76.8" cy="551.3" r="3.1"/><circle cx="112.5" cy="557.2" r="3.1"/><circle cx="113.7" cy="565.8" r="3.1"/><circle cx="59.2" cy="553.5" r="3.1"/><circle cx="87.9" cy="553.8" r="3.1"/><circle cx="65.7" cy="566.7" r="3.1"/><circle cx="120.0" cy="557.2" r="3.1"/><circle cx="101.5" cy="562.3" r="3.1"/><circle cx="98.1" cy="544.2" r="3.1"/><circle cx="90.7" cy="546.5" r="3.1"/><circle cx="97.8" cy="561.7" r="3.1"/><circle cx="63.4" cy="556.3" r="3.1"/><circle cx="70.7" cy="547.8" r="3.1"/><circle cx="65.0" cy="548.2" r="3.1"/><circle cx="86.7" cy="570.3" r="3.1"/><circle cx="58.2" cy="562.5" r="3.1"/><circle cx="109.4" cy="563.3" r="3.1"/><circle cx="106.7" cy="540.8" r="3.1"/><circle cx="104.9" cy="546.6" r="3.1"/><circle cx="90.3" cy="550.6" r="3.1"/><circle cx="64.6" cy="544.3" r="3.1"/><circle cx="87.5" cy="538.6" r="3.1"/><circle cx="78.3" cy="571.9" r="3.1"/><circle cx="56.9" cy="565.9" r="3.1"/><circle cx="89.0" cy="567.1" r="3.1"/><circle cx="95.2" cy="563.8" r="3.1"/><circle cx="121.3" cy="550.2" r="3.1"/><circle cx="91.7" cy="561.0" r="3.1"/><circle cx="74.6" cy="541.2" r="3.1"/><circle cx="56.7" cy="555.8" r="3.1"/><circle cx="83.3" cy="545.4" r="3.1"/><circle cx="115.1" cy="554.2" r="3.1"/><circle cx="57.8" cy="549.7" r="3.1"/><circle cx="110.8" cy="553.6" r="3.1"/><circle cx="63.9" cy="563.8" r="3.1"/><circle cx="113.4" cy="541.6" r="3.1"/></g>
<g fill="#EDB120"><circle cx="191.5" cy="524.8" r="3.1"/><circle cx="207.5" cy="524.3" r="3.1"/><circle cx="219.5" cy="525.1" r="3.1"/><circle cx="213.9" cy="530.0" r="3.1"/><circle cx="181.5" cy="550.7" r="3.1"/><circle cx="171.4" cy="563.0" r="3.1"/><circle cx="237.1" cy="557.5" r="3.1"/><circle cx="230.9" cy="570.3" r="3.1"/><circle cx="233.2" cy="593.6" r="3.1"/><circle cx="228.0" cy="597.5" r="3.1"/><circle cx="223.2" cy="591.0" r="3.1"/><circle cx="220.1" cy="595.2" r="3.1"/><circle cx="221.5" cy="605.9" r="3.1"/><circle cx="211.7" cy="602.7" r="3.1"/><circle cx="209.6" cy="608.9" r="3.1"/><circle cx="196.9" cy="604.5" r="3.1"/><circle cx="179.8" cy="589.6" r="3.1"/><circle cx="184.2" cy="587.0" r="3.1"/><circle cx="182.1" cy="580.8" r="3.1"/><circle cx="180.7" cy="571.2" r="3.1"/><circle cx="182.9" cy="560.7" r="3.1"/><circle cx="185.0" cy="557.2" r="3.1"/><circle cx="190.6" cy="544.1" r="3.1"/><circle cx="236.7" cy="541.4" r="3.1"/><circle cx="228.8" cy="533.9" r="3.1"/><circle cx="222.7" cy="535.3" r="3.1"/><circle cx="197.5" cy="579.1" r="3.1"/><circle cx="193.9" cy="550.0" r="3.1"/><circle cx="220.9" cy="543.6" r="3.1"/><circle cx="210.9" cy="549.0" r="3.1"/><circle cx="199.2" cy="562.9" r="3.1"/><circle cx="191.9" cy="591.0" r="3.1"/><circle cx="197.4" cy="589.6" r="3.1"/><circle cx="208.7" cy="583.6" r="3.1"/><circle cx="212.6" cy="562.8" r="3.1"/><circle cx="191.3" cy="578.6" r="3.1"/><circle cx="206.6" cy="546.6" r="3.1"/><circle cx="194.7" cy="568.7" r="3.1"/><circle cx="191.1" cy="566.7" r="3.1"/><circle cx="194.3" cy="558.7" r="3.1"/><circle cx="216.3" cy="545.5" r="3.1"/><circle cx="205.1" cy="590.8" r="3.1"/><circle cx="203.2" cy="581.1" r="3.1"/><circle cx="214.5" cy="581.5" r="3.1"/><circle cx="195.1" cy="574.8" r="3.1"/><circle cx="213.4" cy="573.1" r="3.1"/><circle cx="201.5" cy="554.2" r="3.1"/><circle cx="190.7" cy="554.6" r="3.1"/><circle cx="217.8" cy="554.3" r="3.1"/><circle cx="226.6" cy="551.8" r="3.1"/><circle cx="213.7" cy="558.0" r="3.1"/><circle cx="196.8" cy="553.7" r="3.1"/><circle cx="189.0" cy="583.8" r="3.1"/><circle cx="222.9" cy="547.5" r="3.1"/><circle cx="208.4" cy="570.8" r="3.1"/><circle cx="227.3" cy="542.4" r="3.1"/><circle cx="186.8" cy="569.5" r="3.1"/><circle cx="200.6" cy="592.4" r="3.1"/><circle cx="211.6" cy="543.3" r="3.1"/><circle cx="208.3" cy="559.1" r="3.1"/><circle cx="201.7" cy="586.6" r="3.1"/><circle cx="210.4" cy="594.1" r="3.1"/><circle cx="215.3" cy="589.0" r="3.1"/><circle cx="205.6" cy="575.1" r="3.1"/><circle cx="203.2" cy="565.7" r="3.1"/><circle cx="210.4" cy="588.7" r="3.1"/><circle cx="195.3" cy="583.0" r="3.1"/><circle cx="216.7" cy="562.7" r="3.1"/><circle cx="222.2" cy="557.0" r="3.1"/><circle cx="220.3" cy="578.0" r="3.1"/><circle cx="213.9" cy="551.7" r="3.1"/><circle cx="214.2" cy="538.9" r="3.1"/><circle cx="199.2" cy="548.3" r="3.1"/><circle cx="187.4" cy="575.0" r="3.1"/><circle cx="205.5" cy="550.9" r="3.1"/><circle cx="198.6" cy="572.3" r="3.1"/><circle cx="206.5" cy="542.0" r="3.1"/><circle cx="219.5" cy="572.1" r="3.1"/><circle cx="220.4" cy="582.8" r="3.1"/><circle cx="221.3" cy="564.6" r="3.1"/><circle cx="209.8" cy="539.1" r="3.1"/><circle cx="205.4" cy="595.1" r="3.1"/><circle cx="217.6" cy="566.9" r="3.1"/><circle cx="220.3" cy="539.5" r="3.1"/><circle cx="231.6" cy="545.2" r="3.1"/><circle cx="208.0" cy="579.0" r="3.1"/><circle cx="218.1" cy="536.0" r="3.1"/><circle cx="188.5" cy="562.4" r="3.1"/><circle cx="203.7" cy="557.6" r="3.1"/><circle cx="195.5" cy="546.1" r="3.1"/><circle cx="212.4" cy="567.2" r="3.1"/><circle cx="201.7" cy="543.5" r="3.1"/><circle cx="212.9" cy="577.4" r="3.1"/><circle cx="223.9" cy="561.0" r="3.1"/><circle cx="187.3" cy="580.0" r="3.1"/><circle cx="208.0" cy="563.4" r="3.1"/><circle cx="218.8" cy="549.6" r="3.1"/><circle cx="230.5" cy="549.8" r="3.1"/><circle cx="203.9" cy="570.9" r="3.1"/><circle cx="207.7" cy="554.6" r="3.1"/><circle cx="200.7" cy="596.9" r="3.1"/><circle cx="199.4" cy="567.9" r="3.1"/><circle cx="224.9" cy="538.9" r="3.1"/><circle cx="231.2" cy="541.2" r="3.1"/><circle cx="190.4" cy="571.9" r="3.1"/><circle cx="201.5" cy="576.5" r="3.1"/><circle cx="199.3" cy="558.4" r="3.1"/><circle cx="195.1" cy="563.9" r="3.1"/><circle cx="227.3" cy="546.5" r="3.1"/></g>
<rect x="39.70" y="371.20" width="299.50" height="283.50" fill="none" stroke="#3d3d3d" stroke-width="1.6"/>
<path d="M99.80 654.70v-3.30M99.80 371.20v3.30M195.20 654.70v-3.30M195.20 371.20v3.30M291.40 654.70v-3.30M291.40 371.20v3.30M39.70 371.20h3.30M339.20 371.20h-3.30M39.70 442.10h3.30M339.20 442.10h-3.30M39.70 513.00h3.30M339.20 513.00h-3.30M39.70 583.80h3.30M339.20 583.80h-3.30M39.70 654.70h3.30M339.20 654.70h-3.30" stroke="#3d3d3d" stroke-width="1.3" fill="none"/>
<text x="99.00" y="682.50" font-size="24" class="t" text-anchor="middle">-10</text>
<text x="194.40" y="682.50" font-size="24" class="t" text-anchor="middle">0</text>
<text x="290.60" y="682.50" font-size="24" class="t" text-anchor="middle">10</text>
<text x="31.70" y="378.40" font-size="24" class="t" text-anchor="end">20</text>
<text x="31.70" y="449.30" font-size="24" class="t" text-anchor="end">10</text>
<text x="31.70" y="520.20" font-size="24" class="t" text-anchor="end">0</text>
<text x="31.70" y="591.00" font-size="24" class="t" text-anchor="end">-10</text>
<text x="31.70" y="661.90" font-size="24" class="t" text-anchor="end">-20</text>
<text x="189.10" y="726.00" font-size="24" font-weight="bold" text-anchor="middle" fill="#111">(c)</text>
</g>
<g id="plot-d">
<g fill="#0072BD"><circle cx="511.0" cy="535.1" r="3.1"/><circle cx="582.4" cy="495.0" r="3.1"/><circle cx="632.7" cy="504.1" r="3.1"/><circle cx="636.2" cy="533.2" r="3.1"/><circle cx="591.5" cy="528.7" r="3.1"/><circle cx="567.4" cy="507.3" r="3.1"/><circle cx="641.5" cy="514.3" r="3.1"/><circle cx="606.2" cy="514.6" r="3.1"/><circle cx="589.2" cy="501.3" r="3.1"/><circle cx="587.2" cy="505.4" r="3.1"/><circle cx="592.0" cy="505.7" r="3.1"/><circle cx="575.9" cy="507.8" r="3.1"/><circle cx="590.8" cy="516.7" r="3.1"/><circle cx="582.8" cy="498.5" r="3.1"/><circle cx="582.9" cy="515.7" r="3.1"/><circle cx="596.5" cy="522.6" r="3.1"/><circle cx="626.9" cy="511.0" r="3.1"/><circle cx="623.4" cy="510.3" r="3.1"/><circle cx="635.1" cy="526.3" r="3.1"/><circle cx="621.6" cy="525.1" r="3.1"/><circle cx="601.3" cy="513.4" r="3.1"/><circle cx="576.8" cy="513.4" r="3.1"/><circle cx="604.7" cy="509.4" r="3.1"/><circle cx="570.0" cy="509.6" r="3.1"/><circle cx="588.8" cy="510.6" r="3.1"/><circle cx="590.1" cy="520.6" r="3.1"/><circle cx="618.4" cy="523.3" r="3.1"/><circle cx="605.1" cy="519.8" r="3.1"/><circle cx="580.6" cy="506.3" r="3.1"/><circle cx="615.5" cy="519.0" r="3.1"/><circle cx="636.1" cy="516.7" r="3.1"/><circle cx="591.8" cy="509.4" r="3.1"/><circle cx="617.0" cy="515.2" r="3.1"/><circle cx="594.9" cy="517.5" r="3.1"/><circle cx="580.2" cy="520.1" r="3.1"/><circle cx="573.3" cy="512.3" r="3.1"/><circle cx="584.2" cy="512.2" r="3.1"/><circle cx="579.5" cy="502.7" r="3.1"/><circle cx="638.5" cy="522.8" r="3.1"/><circle cx="603.9" cy="505.1" r="3.1"/><circle cx="598.5" cy="515.5" r="3.1"/><circle cx="593.5" cy="502.8" r="3.1"/><circle cx="615.7" cy="512.2" r="3.1"/><circle cx="626.3" cy="516.0" r="3.1"/><circle cx="582.8" cy="502.0" r="3.1"/><circle cx="595.6" cy="508.2" r="3.1"/><circle cx="628.4" cy="520.5" r="3.1"/><circle cx="626.2" cy="525.3" r="3.1"/><circle cx="639.2" cy="518.3" r="3.1"/><circle cx="630.0" cy="509.4" r="3.1"/><circle cx="631.2" cy="517.7" r="3.1"/><circle cx="623.8" cy="527.5" r="3.1"/><circle cx="581.0" cy="511.7" r="3.1"/><circle cx="594.3" cy="511.9" r="3.1"/><circle cx="599.3" cy="509.0" r="3.1"/><circle cx="609.4" cy="515.2" r="3.1"/><circle cx="575.6" cy="503.8" r="3.1"/><circle cx="622.6" cy="516.4" r="3.1"/><circle cx="625.2" cy="521.6" r="3.1"/><circle cx="599.8" cy="503.4" r="3.1"/><circle cx="634.1" cy="520.6" r="3.1"/><circle cx="598.1" cy="512.3" r="3.1"/><circle cx="630.6" cy="512.6" r="3.1"/><circle cx="632.4" cy="523.7" r="3.1"/><circle cx="572.7" cy="507.8" r="3.1"/><circle cx="575.0" cy="519.3" r="3.1"/><circle cx="570.1" cy="513.3" r="3.1"/><circle cx="620.4" cy="520.1" r="3.1"/><circle cx="589.0" cy="513.9" r="3.1"/><circle cx="599.3" cy="518.6" r="3.1"/><circle cx="577.5" cy="516.6" r="3.1"/><circle cx="612.5" cy="516.8" r="3.1"/><circle cx="591.7" cy="525.3" r="3.1"/><circle cx="634.6" cy="507.1" r="3.1"/><circle cx="587.2" cy="498.7" r="3.1"/><circle cx="640.0" cy="527.0" r="3.1"/><circle cx="637.4" cy="512.6" r="3.1"/><circle cx="619.5" cy="511.0" r="3.1"/><circle cx="586.0" cy="517.0" r="3.1"/><circle cx="612.6" cy="513.6" r="3.1"/><circle cx="633.2" cy="514.4" r="3.1"/><circle cx="637.1" cy="529.0" r="3.1"/><circle cx="583.7" cy="508.1" r="3.1"/><circle cx="602.0" cy="516.8" r="3.1"/><circle cx="579.2" cy="498.8" r="3.1"/><circle cx="592.0" cy="499.7" r="3.1"/><circle cx="586.8" cy="520.4" r="3.1"/><circle cx="593.5" cy="520.8" r="3.1"/><circle cx="595.0" cy="526.2" r="3.1"/><circle cx="624.1" cy="513.5" r="3.1"/><circle cx="630.7" cy="527.4" r="3.1"/><circle cx="572.0" cy="517.4" r="3.1"/><circle cx="597.0" cy="501.6" r="3.1"/><circle cx="571.7" cy="504.4" r="3.1"/><circle cx="634.7" cy="510.7" r="3.1"/></g>
<g fill="#D95319"><circle cx="576.5" cy="598.2" r="3.1"/><circle cx="555.8" cy="584.9" r="3.1"/><circle cx="541.3" cy="585.9" r="3.1"/><circle cx="588.7" cy="632.7" r="3.1"/><circle cx="590.3" cy="629.2" r="3.1"/><circle cx="568.6" cy="605.9" r="3.1"/><circle cx="545.2" cy="606.8" r="3.1"/><circle cx="564.0" cy="619.9" r="3.1"/><circle cx="555.0" cy="589.4" r="3.1"/><circle cx="579.9" cy="613.3" r="3.1"/><circle cx="572.5" cy="614.8" r="3.1"/><circle cx="567.5" cy="616.5" r="3.1"/><circle cx="544.4" cy="601.4" r="3.1"/><circle cx="540.6" cy="591.2" r="3.1"/><circle cx="536.2" cy="599.2" r="3.1"/><circle cx="567.5" cy="623.8" r="3.1"/><circle cx="553.3" cy="603.4" r="3.1"/><circle cx="550.8" cy="600.5" r="3.1"/><circle cx="549.1" cy="591.6" r="3.1"/><circle cx="579.9" cy="618.6" r="3.1"/><circle cx="537.2" cy="605.5" r="3.1"/><circle cx="545.2" cy="590.2" r="3.1"/><circle cx="561.3" cy="595.7" r="3.1"/><circle cx="564.9" cy="594.4" r="3.1"/><circle cx="548.8" cy="605.8" r="3.1"/><circle cx="574.3" cy="605.4" r="3.1"/><circle cx="574.6" cy="624.2" r="3.1"/><circle cx="553.4" cy="612.0" r="3.1"/><circle cx="566.9" cy="611.2" r="3.1"/><circle cx="547.7" cy="612.1" r="3.1"/><circle cx="561.5" cy="607.0" r="3.1"/><circle cx="556.0" cy="622.2" r="3.1"/><circle cx="545.9" cy="617.5" r="3.1"/><circle cx="558.7" cy="590.5" r="3.1"/><circle cx="574.3" cy="611.1" r="3.1"/><circle cx="561.9" cy="611.7" r="3.1"/><circle cx="539.1" cy="596.6" r="3.1"/><circle cx="549.4" cy="625.2" r="3.1"/><circle cx="591.6" cy="615.4" r="3.1"/><circle cx="557.1" cy="617.4" r="3.1"/><circle cx="587.6" cy="616.3" r="3.1"/><circle cx="568.6" cy="601.5" r="3.1"/><circle cx="558.9" cy="601.1" r="3.1"/><circle cx="570.3" cy="610.8" r="3.1"/><circle cx="541.5" cy="603.9" r="3.1"/><circle cx="579.3" cy="624.2" r="3.1"/><circle cx="576.4" cy="620.9" r="3.1"/><circle cx="558.2" cy="597.9" r="3.1"/><circle cx="552.4" cy="617.0" r="3.1"/><circle cx="575.5" cy="616.9" r="3.1"/><circle cx="542.4" cy="615.7" r="3.1"/><circle cx="563.9" cy="599.1" r="3.1"/><circle cx="571.9" cy="626.2" r="3.1"/><circle cx="538.7" cy="601.5" r="3.1"/><circle cx="541.4" cy="609.7" r="3.1"/><circle cx="554.9" cy="596.0" r="3.1"/><circle cx="571.3" cy="621.0" r="3.1"/><circle cx="577.2" cy="607.7" r="3.1"/><circle cx="584.3" cy="621.8" r="3.1"/><circle cx="562.4" cy="602.6" r="3.1"/><circle cx="588.2" cy="621.9" r="3.1"/><circle cx="550.5" cy="609.5" r="3.1"/><circle cx="582.3" cy="611.2" r="3.1"/><circle cx="585.4" cy="612.8" r="3.1"/><circle cx="547.1" cy="597.6" r="3.1"/><circle cx="544.3" cy="595.5" r="3.1"/><circle cx="552.2" cy="622.2" r="3.1"/><circle cx="535.3" cy="595.4" r="3.1"/><circle cx="560.8" cy="615.8" r="3.1"/><circle cx="557.5" cy="606.0" r="3.1"/><circle cx="565.3" cy="607.5" r="3.1"/><circle cx="551.3" cy="588.8" r="3.1"/><circle cx="550.7" cy="597.2" r="3.1"/><circle cx="547.5" cy="621.1" r="3.1"/><circle cx="554.6" cy="599.6" r="3.1"/><circle cx="560.7" cy="621.3" r="3.1"/><circle cx="544.0" cy="620.5" r="3.1"/><circle cx="543.8" cy="612.4" r="3.1"/><circle cx="538.1" cy="610.2" r="3.1"/><circle cx="591.0" cy="618.6" r="3.1"/><circle cx="584.5" cy="625.7" r="3.1"/><circle cx="586.2" cy="628.7" r="3.1"/><circle cx="553.4" cy="593.2" r="3.1"/><circle cx="534.6" cy="603.3" r="3.1"/><circle cx="557.9" cy="609.9" r="3.1"/><circle cx="552.4" cy="606.7" r="3.1"/><circle cx="542.2" cy="598.1" r="3.1"/><circle cx="548.0" cy="602.7" r="3.1"/><circle cx="558.1" cy="613.5" r="3.1"/><circle cx="583.3" cy="618.6" r="3.1"/><circle cx="565.7" cy="604.3" r="3.1"/><circle cx="548.8" cy="615.4" r="3.1"/><circle cx="564.6" cy="615.0" r="3.1"/><circle cx="536.8" cy="591.4" r="3.1"/><circle cx="572.5" cy="608.5" r="3.1"/><circle cx="567.3" cy="598.5" r="3.1"/><circle cx="583.3" cy="615.2" r="3.1"/><circle cx="557.4" cy="593.5" r="3.1"/><circle cx="567.3" cy="620.5" r="3.1"/></g>
<g fill="#EDB120"><circle cx="478.6" cy="447.7" r="3.1"/><circle cx="483.0" cy="451.2" r="3.1"/><circle cx="487.0" cy="447.3" r="3.1"/><circle cx="490.8" cy="449.4" r="3.1"/><circle cx="494.3" cy="452.6" r="3.1"/><circle cx="441.3" cy="457.3" r="3.1"/><circle cx="440.9" cy="464.0" r="3.1"/><circle cx="443.2" cy="475.2" r="3.1"/><circle cx="442.7" cy="484.5" r="3.1"/><circle cx="444.4" cy="486.7" r="3.1"/><circle cx="479.1" cy="461.7" r="3.1"/><circle cx="487.3" cy="465.2" r="3.1"/><circle cx="489.4" cy="466.9" r="3.1"/><circle cx="485.6" cy="469.6" r="3.1"/><circle cx="465.4" cy="438.0" r="3.1"/><circle cx="468.9" cy="441.5" r="3.1"/><circle cx="468.1" cy="445.9" r="3.1"/><circle cx="453.2" cy="444.2" r="3.1"/><circle cx="466.6" cy="482.0" r="3.1"/><circle cx="445.1" cy="459.4" r="3.1"/><circle cx="465.7" cy="455.9" r="3.1"/><circle cx="446.6" cy="482.3" r="3.1"/><circle cx="474.5" cy="468.8" r="3.1"/><circle cx="467.3" cy="486.1" r="3.1"/><circle cx="450.0" cy="482.3" r="3.1"/><circle cx="459.3" cy="490.2" r="3.1"/><circle cx="460.2" cy="480.3" r="3.1"/><circle cx="468.1" cy="490.1" r="3.1"/><circle cx="455.5" cy="480.9" r="3.1"/><circle cx="452.3" cy="471.2" r="3.1"/><circle cx="468.0" cy="468.5" r="3.1"/><circle cx="449.5" cy="474.1" r="3.1"/><circle cx="469.0" cy="453.5" r="3.1"/><circle cx="459.0" cy="463.9" r="3.1"/><circle cx="455.7" cy="472.7" r="3.1"/><circle cx="468.4" cy="475.6" r="3.1"/><circle cx="454.8" cy="447.0" r="3.1"/><circle cx="480.5" cy="467.6" r="3.1"/><circle cx="472.5" cy="460.5" r="3.1"/><circle cx="451.0" cy="454.7" r="3.1"/><circle cx="475.4" cy="464.9" r="3.1"/><circle cx="463.2" cy="490.6" r="3.1"/><circle cx="457.7" cy="449.0" r="3.1"/><circle cx="462.3" cy="486.6" r="3.1"/><circle cx="458.2" cy="469.8" r="3.1"/><circle cx="457.1" cy="457.9" r="3.1"/><circle cx="466.6" cy="449.2" r="3.1"/><circle cx="463.2" cy="465.8" r="3.1"/><circle cx="467.2" cy="464.3" r="3.1"/><circle cx="464.2" cy="479.1" r="3.1"/><circle cx="445.1" cy="464.1" r="3.1"/><circle cx="446.4" cy="467.7" r="3.1"/><circle cx="452.1" cy="467.7" r="3.1"/><circle cx="452.6" cy="458.4" r="3.1"/><circle cx="466.8" cy="459.7" r="3.1"/><circle cx="461.6" cy="471.9" r="3.1"/><circle cx="451.2" cy="476.9" r="3.1"/><circle cx="456.4" cy="451.9" r="3.1"/><circle cx="447.1" cy="457.1" r="3.1"/><circle cx="457.3" cy="485.0" r="3.1"/><circle cx="483.9" cy="466.4" r="3.1"/><circle cx="453.2" cy="485.3" r="3.1"/><circle cx="446.5" cy="475.0" r="3.1"/><circle cx="455.2" cy="455.1" r="3.1"/><circle cx="463.1" cy="443.6" r="3.1"/><circle cx="470.7" cy="487.0" r="3.1"/><circle cx="456.7" cy="461.3" r="3.1"/><circle cx="452.9" cy="462.2" r="3.1"/><circle cx="455.3" cy="476.9" r="3.1"/><circle cx="469.9" cy="483.0" r="3.1"/><circle cx="472.1" cy="472.3" r="3.1"/><circle cx="449.7" cy="462.5" r="3.1"/><circle cx="464.4" cy="470.5" r="3.1"/><circle cx="454.6" cy="465.4" r="3.1"/><circle cx="459.8" cy="476.4" r="3.1"/><circle cx="455.3" cy="490.4" r="3.1"/><circle cx="471.5" cy="468.4" r="3.1"/><circle cx="461.2" cy="460.5" r="3.1"/><circle cx="449.2" cy="466.5" r="3.1"/><circle cx="469.0" cy="472.6" r="3.1"/><circle cx="470.1" cy="458.6" r="3.1"/><circle cx="471.3" cy="479.5" r="3.1"/><circle cx="453.9" cy="449.9" r="3.1"/><circle cx="464.9" cy="474.2" r="3.1"/><circle cx="478.3" cy="470.4" r="3.1"/><circle cx="474.9" cy="475.6" r="3.1"/><circle cx="462.2" cy="483.6" r="3.1"/><circle cx="460.5" cy="457.1" r="3.1"/><circle cx="464.0" cy="462.0" r="3.1"/><circle cx="471.9" cy="476.3" r="3.1"/><circle cx="448.5" cy="478.4" r="3.1"/><circle cx="449.9" cy="451.7" r="3.1"/><circle cx="475.7" cy="461.7" r="3.1"/><circle cx="447.8" cy="470.7" r="3.1"/><circle cx="463.5" cy="447.3" r="3.1"/><circle cx="459.4" cy="446.4" r="3.1"/><circle cx="472.2" cy="465.4" r="3.1"/><circle cx="480.8" cy="464.2" r="3.1"/><circle cx="467.6" cy="478.7" r="3.1"/><circle cx="448.9" cy="485.7" r="3.1"/><circle cx="458.9" cy="473.3" r="3.1"/><circle cx="460.8" cy="467.8" r="3.1"/><circle cx="463.6" cy="458.1" r="3.1"/><circle cx="452.5" cy="479.9" r="3.1"/><circle cx="465.8" cy="442.2" r="3.1"/></g>
<rect x="399.10" y="372.10" width="274.90" height="282.60" fill="none" stroke="#3d3d3d" stroke-width="1.6"/>
<path d="M399.10 654.70v-3.30M399.10 372.10v3.30M467.80 654.70v-3.30M467.80 372.10v3.30M536.60 654.70v-3.30M536.60 372.10v3.30M605.30 654.70v-3.30M605.30 372.10v3.30M674.00 654.70v-3.30M674.00 372.10v3.30M399.10 372.10h3.30M674.00 372.10h-3.30M399.10 442.75h3.30M674.00 442.75h-3.30M399.10 513.40h3.30M674.00 513.40h-3.30M399.10 584.00h3.30M674.00 584.00h-3.30M399.10 654.70h3.30M674.00 654.70h-3.30" stroke="#3d3d3d" stroke-width="1.3" fill="none"/>
<text x="398.30" y="682.50" font-size="24" class="t" text-anchor="middle">-40</text>
<text x="467.00" y="682.50" font-size="24" class="t" text-anchor="middle">-20</text>
<text x="535.80" y="682.50" font-size="24" class="t" text-anchor="middle">0</text>
<text x="604.50" y="682.50" font-size="24" class="t" text-anchor="middle">20</text>
<text x="673.20" y="682.50" font-size="24" class="t" text-anchor="middle">40</text>
<text x="391.10" y="379.30" font-size="24" class="t" text-anchor="end">40</text>
<text x="391.10" y="449.95" font-size="24" class="t" text-anchor="end">20</text>
<text x="391.10" y="520.60" font-size="24" class="t" text-anchor="end">0</text>
<text x="391.10" y="591.20" font-size="24" class="t" text-anchor="end">-20</text>
<text x="391.10" y="661.90" font-size="24" class="t" text-anchor="end">-40</text>
<text x="534.10" y="721.10" font-size="24" font-weight="bold" text-anchor="middle" fill="#111">(d)</text>
</g>
<g id="legend"><rect x="531" y="387.9" width="129.1" height="83" fill="#fff" stroke="#3d3d3d" stroke-width="1.6"/>
<circle cx="577.9" cy="404.2" r="3.1" fill="#0072BD"/>
<text x="622.6" y="410.7" font-size="21.5">NL</text>
<circle cx="577.9" cy="429.4" r="3.1" fill="#D95319"/>
<text x="622.6" y="436.2" font-size="21.5">IL</text>
<circle cx="577.9" cy="454.9" r="3.1" fill="#EDB120"/>
<text x="622.6" y="461.9" font-size="21.5">LC</text>
</g></svg></body></html>
